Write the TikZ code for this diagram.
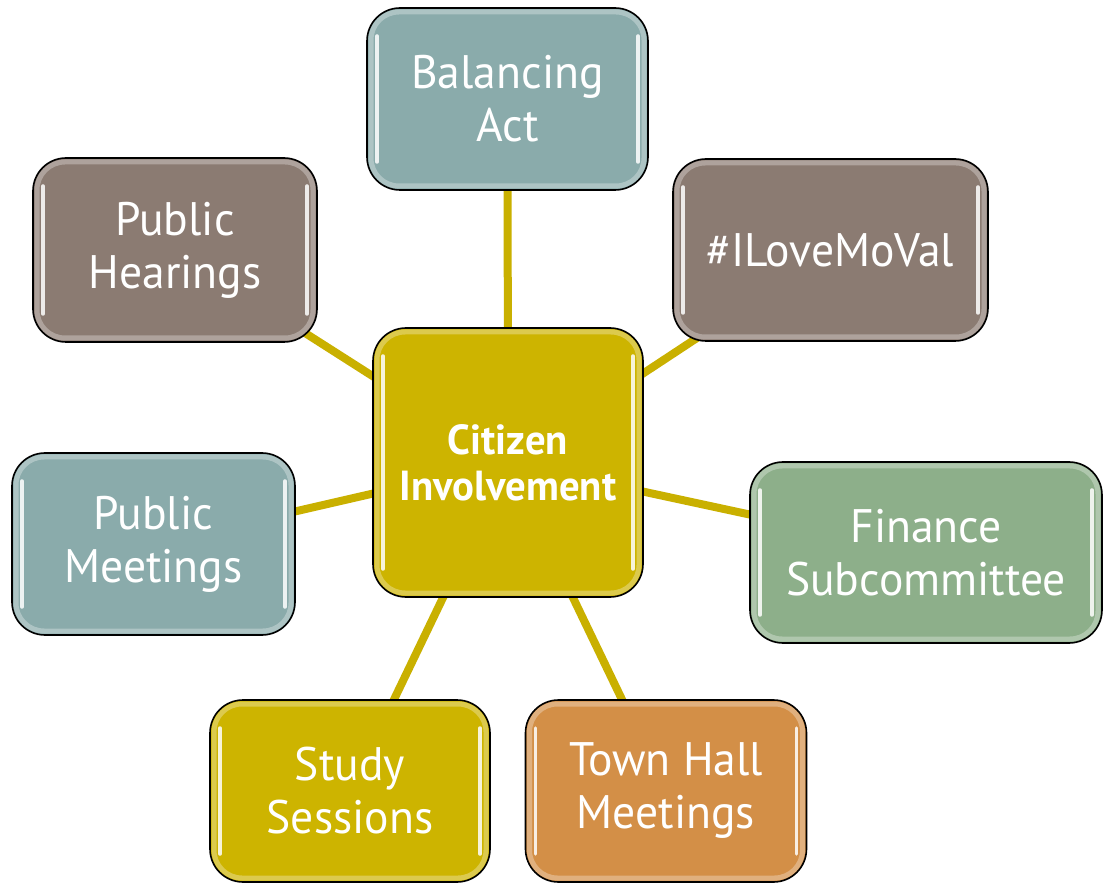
\documentclass[tikz,border=0pt]{standalone}
\usepackage{fontspec}
\newfontfamily\boxfont{PT Sans}[FakeStretch=0.97]
\usetikzlibrary{backgrounds}
\definecolor{teal}{HTML}{8AABAB}
\definecolor{taupe}{HTML}{8B7B72}
\definecolor{sage}{HTML}{8DAF8A}
\definecolor{gold}{HTML}{CDB400}
\definecolor{ochre}{HTML}{D38F47}
\definecolor{linkc}{HTML}{C9B000}
\tikzset{
  box/.style={draw=black, line width=1.6pt, rounded corners=33pt, text=white,
    align=center, inner sep=0pt,
    font=\boxfont\fontsize{47}{53}\selectfont,
    path picture={
      \draw[white, opacity=0.3, line width=5pt, rounded corners=28pt]
        ([xshift=4pt,yshift=-4pt]path picture bounding box.north west) rectangle
        ([xshift=-4pt,yshift=4pt]path picture bounding box.south east);
      \draw[white, opacity=0.85, line width=3.5pt, line cap=round]
        ([xshift=10pt,yshift=-28pt]path picture bounding box.north west) --
        ([xshift=10pt,yshift=28pt]path picture bounding box.south west);
      \draw[white, opacity=0.85, line width=3.5pt, line cap=round]
        ([xshift=-10pt,yshift=-28pt]path picture bounding box.north east) --
        ([xshift=-10pt,yshift=28pt]path picture bounding box.south east);
    }},
  link/.style={draw=linkc, line width=8pt},
}
\begin{document}
\begin{tikzpicture}[x=1pt,y=-1pt]
\useasboundingbox (0,0) rectangle (1109,890);
\node[box, fill=gold, minimum width=270pt, minimum height=269pt,
  font=\boxfont\bfseries\fontsize{42}{46}\selectfont] (c) at (508,462.5) {Citizen\\Involvement};
\node[box, fill=teal, minimum width=281pt, minimum height=182pt] (ba) at (507.5,99) {Balancing\\Act};
\node[box, fill=taupe, minimum width=284pt, minimum height=184pt] (ph) at (175,250) {Public\\Hearings};
\node[box, fill=taupe, minimum width=315pt, minimum height=182pt] (il) at (830.5,250) {\#ILoveMoVal};
\node[box, fill=teal, minimum width=283pt, minimum height=182pt] (pm) at (153.5,544) {Public\\Meetings};
\node[box, fill=sage, minimum width=352pt, minimum height=181pt] (fs) at (926,552.5) {Finance\\Subcommittee};
\node[box, fill=gold, minimum width=280pt, minimum height=182pt] (ss) at (350,791) {Study\\Sessions};
\node[box, fill=ochre, minimum width=281pt, minimum height=182pt] (th) at (666,791) {Town Hall\\Meetings};
\begin{scope}[on background layer]
\draw[link] (c.center) -- (ba.center);
\draw[link] (c.center) -- (ph.center);
\draw[link] (c.center) -- (il.center);
\draw[link] (c.center) -- (pm.center);
\draw[link] (c.center) -- (fs.center);
\draw[link] (c.center) -- (ss.center);
\draw[link] (c.center) -- (th.center);
\end{scope}
\end{tikzpicture}
\end{document}
